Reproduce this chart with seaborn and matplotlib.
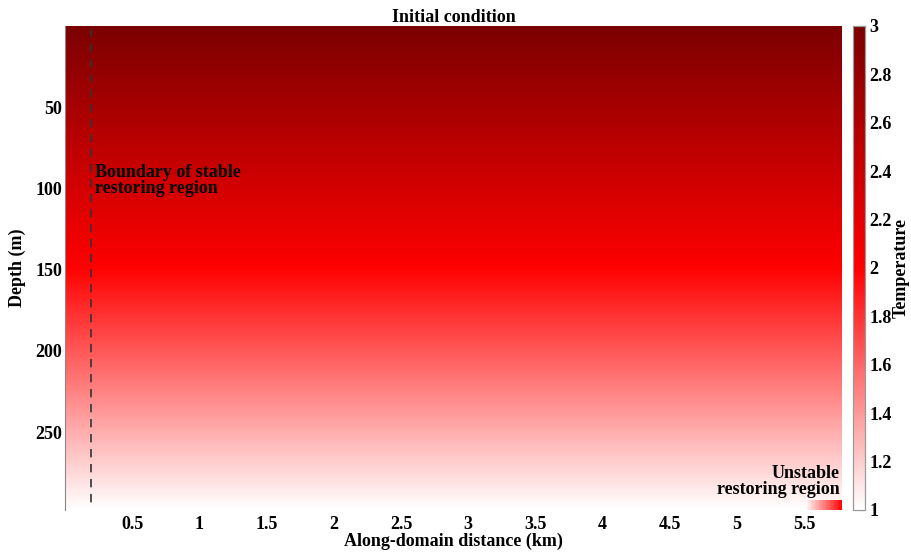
import numpy as np
import pandas as pd
import matplotlib
matplotlib.use("Agg")
import matplotlib.pyplot as plt
from matplotlib.colors import LinearSegmentedColormap
import seaborn as sns

# Domain extent
x_max_km = 5.78
depth_max_m = 298.0
dx_km = 0.01
dz_m = 1.0

# Initial temperature profile (knots in depth)
profile_depth = [0.0, 149.0, 298.0]
profile_temp = [3.0, 2.0, 1.0]

# Unstable restoring region near the bottom-right corner
unstable_x = [5.52, 5.78]
unstable_temp = [1.05, 2.0]
unstable_top_depth = 292.0

# Stable restoring boundary
boundary_x_km = 0.19

xticks_km = [0.5, 1, 1.5, 2, 2.5, 3, 3.5, 4, 4.5, 5, 5.5]
yticks_m = [50, 100, 150, 200, 250]
cbar_ticks = [1, 1.2, 1.4, 1.6, 1.8, 2, 2.2, 2.4, 2.6, 2.8, 3]

# Build the gridded field
x_c = np.arange(0, x_max_km, dx_km) + dx_km / 2
z_c = np.arange(0, depth_max_m, dz_m) + dz_m / 2
T_col = np.interp(z_c, profile_depth, profile_temp)
field = np.tile(T_col[:, None], (1, x_c.size))
mask_x = x_c >= unstable_x[0]
mask_z = z_c >= unstable_top_depth
ramp = np.interp(x_c[mask_x], unstable_x, unstable_temp)
field[np.ix_(mask_z, mask_x)] = ramp[None, :]
df = pd.DataFrame(field, index=np.round(z_c, 2), columns=np.round(x_c, 3))

sns.set_theme(style="white")
plt.rcParams["font.family"] = ["Liberation Serif", "DejaVu Serif"]
plt.rcParams["font.weight"] = "bold"
for key in ("text.color", "axes.labelcolor", "xtick.color", "ytick.color"):
    plt.rcParams[key] = "black"

cmap = LinearSegmentedColormap.from_list(
    "temp", [(0.0, (1, 1, 1)), (0.5, (1, 0, 0)), (1.0, (0.48, 0, 0))])

fig = plt.figure(figsize=(9.11, 5.53), dpi=100)
ax = fig.add_axes([65 / 911, 1 - 510 / 553, 777 / 911, 484 / 553])
cax = fig.add_axes([853 / 911, 1 - 510 / 553, 12 / 911, 484 / 553])

sns.heatmap(df, ax=ax, cbar_ax=cax, cmap=cmap, vmin=1, vmax=3,
            xticklabels=False, yticklabels=False, rasterized=True)

fs = 13
ax.set_xticks([v / dx_km for v in xticks_km])
ax.set_xticklabels([f"{v:g}" for v in xticks_km], fontsize=fs, fontweight="bold", rotation=0)
ax.set_yticks([v / dz_m for v in yticks_m])
ax.set_yticklabels([f"{v:g}" for v in yticks_m], fontsize=fs, fontweight="bold", rotation=0)
ax.tick_params(axis="x", length=0, pad=4)
ax.tick_params(axis="y", length=0, pad=2)
ax.set_xlabel("Along-domain distance (km)", fontsize=fs, fontweight="bold", labelpad=0)
ax.set_ylabel("Depth (m)", fontsize=fs, fontweight="bold", labelpad=7)
ax.set_title("Initial condition", fontsize=fs, fontweight="bold", pad=3)

for side, sp in ax.spines.items():
    sp.set_visible(side == "left")
    sp.set_color("#888888")
    sp.set_linewidth(0.8)

# Boundary line and labels
bx = boundary_x_km / dx_km
ax.plot([bx, bx], [2 / dz_m, 296 / dz_m], ls=(0, (5, 4)), color="#333333", lw=1.2)
ax.text(bx + 0.035 / dx_km, 95 / dz_m, "Boundary of stable\nrestoring region",
        fontsize=fs, fontweight="bold", va="center", ha="left", linespacing=0.88)
ax.text(5.76 / dx_km, 280.5 / dz_m, "Unstable\nrestoring region",
        fontsize=fs, fontweight="bold", va="center", ha="right", multialignment="right",
        linespacing=0.88)

# Colorbar styling
cax.set_yticks(cbar_ticks)
cax.set_yticklabels([f"{v:g}" for v in cbar_ticks], fontsize=fs, fontweight="bold")
cax.tick_params(axis="y", direction="in", length=4, color="#777777", width=0.8, pad=3)
cax.set_ylabel("Temperature", fontsize=fs, fontweight="bold", labelpad=1)
for sp in cax.spines.values():
    sp.set_visible(True)
    sp.set_color("#999999")
    sp.set_linewidth(0.8)

fig.savefig("out.png", dpi=100)
